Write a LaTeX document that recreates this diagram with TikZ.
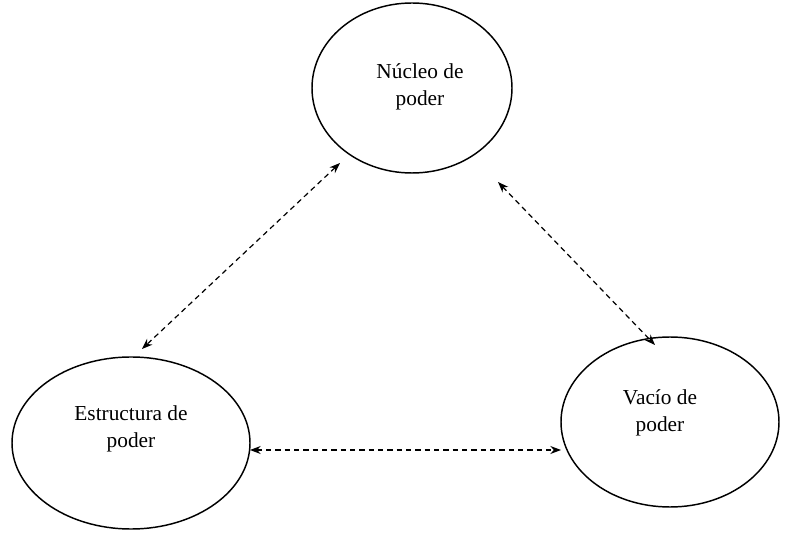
\documentclass[tikz,border=0pt]{standalone}
\usepackage{fontspec}
\setmainfont{Liberation Serif}
\usetikzlibrary{arrows.meta}
\begin{document}
\begin{tikzpicture}[x=0.75pt,y=-0.75pt,
  ell/.style={draw,line width=1.1pt},
  conn/.style={dash pattern=on 4pt off 3pt,line width=0.9pt,{Stealth[length=8pt,width=6pt]}-{Stealth[length=8pt,width=6pt]}},
  lbl/.style={font=\fontsize{16}{20}\selectfont,align=center}]
\useasboundingbox (0,0) rectangle (793,541);
\draw[ell] (412,88) ellipse [x radius=100,y radius=85];
\draw[ell] (131,443) ellipse [x radius=119,y radius=86];
\draw[ell] (670,422) ellipse [x radius=109,y radius=85];
\node[lbl] (n) at (420,87) {Núcleo de\\poder};
\node[lbl] (e) at (131,429) {Estructura de\\poder};
\node[lbl] (v) at (660,413) {Vacío de\\poder};
\coordinate (a1) at (340,163); \coordinate (a2) at (142,349);
\coordinate (b1) at (498,182); \coordinate (b2) at (655,345);
\coordinate (c1) at (250,450); \coordinate (c2) at (561,450);
\draw[conn] (a1) -- (a2);
\draw[conn] (b1) -- (b2);
\draw[conn] (c1) -- (c2);
\end{tikzpicture}
\end{document}
